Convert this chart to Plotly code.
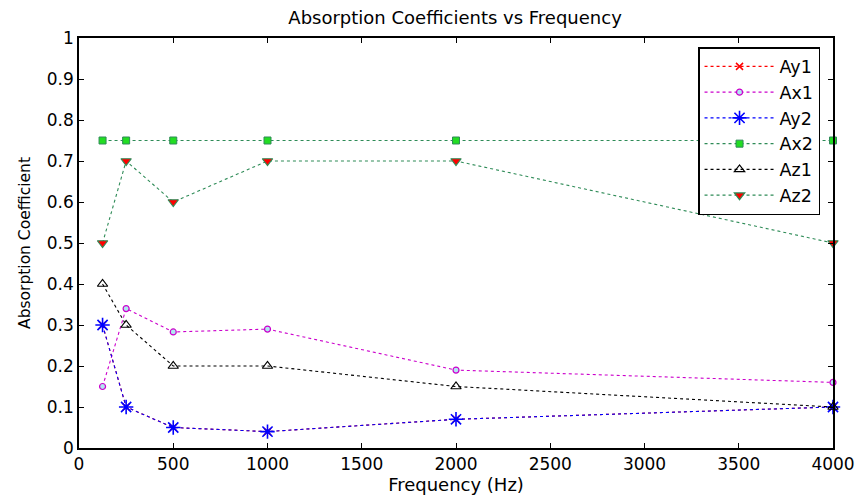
import plotly.graph_objects as go

# Octave-band centre frequencies (Hz)
freq = [125, 250, 500, 1000, 2000, 4000]

# Absorption coefficients per surface
ay1 = [0.30, 0.10, 0.05, 0.04, 0.07, 0.10]
ax1 = [0.15, 0.34, 0.283, 0.29, 0.19, 0.16]
ay2 = [0.30, 0.10, 0.05, 0.04, 0.07, 0.10]
ax2 = [0.75, 0.75, 0.75, 0.75, 0.75, 0.75]
az1 = [0.40, 0.30, 0.20, 0.20, 0.15, 0.10]
az2 = [0.50, 0.70, 0.60, 0.70, 0.70, 0.50]

x_ticks = [0, 500, 1000, 1500, 2000, 2500, 3000, 3500, 4000]
y_ticks = [0, 0.1, 0.2, 0.3, 0.4, 0.5, 0.6, 0.7, 0.8, 0.9, 1]

seagreen = "#2e8b57"

series = [
    ("Ay1", ay1, "red", dict(symbol="x-thin-open", size=7, color="red",
                             line=dict(color="red", width=1.5))),
    ("Ax1", ax1, "#cc00cc", dict(symbol="circle", size=6, color="#b0e8f0",
                                 line=dict(color="#cc00cc", width=1.2))),
    ("Ay2", ay2, "blue", dict(symbol="asterisk-open", size=12, color="blue",
                              line=dict(color="blue", width=1.6))),
    ("Ax2", ax2, seagreen, dict(symbol="square", size=7, color="#22dd22",
                                line=dict(color=seagreen, width=1))),
    ("Az1", az1, "black", dict(symbol="triangle-up-open", size=9, color="black",
                               line=dict(color="black", width=1.2))),
    ("Az2", az2, seagreen, dict(symbol="triangle-down", size=9, color="red",
                                line=dict(color=seagreen, width=1.2))),
]

fig = go.Figure()
for name, vals, lc, mk in series:
    fig.add_trace(go.Scatter(
        x=freq, y=vals, name=name, mode="lines+markers",
        line=dict(color=lc, width=1.1, dash="dot"),
        marker=mk, cliponaxis=False,
    ))

axis_common = dict(
    showgrid=False, zeroline=False, showline=True, linecolor="black",
    linewidth=1.5, mirror="ticks", ticks="inside", ticklen=5,
    tickcolor="black", tickfont=dict(size=17, color="black"),
    automargin=False,
)

fig.update_layout(
    width=857, height=498,
    margin=dict(l=79, r=24, t=38, b=50),
    paper_bgcolor="white", plot_bgcolor="white",
    font=dict(family="DejaVu Sans, sans-serif", color="black"),
    title=dict(text="Absorption Coefficients vs Frequency", x=0.531, xanchor="center",
               y=0.965, yanchor="middle", font=dict(size=18, color="black")),
    xaxis=dict(range=[0, 4000], tickvals=x_ticks,
               title=dict(text="Frequency (Hz)", font=dict(size=18), standoff=4),
               **axis_common),
    yaxis=dict(range=[0, 1], tickvals=y_ticks,
               ticktext=[f"{v:g}" for v in y_ticks],
               title=dict(text="Absorption Coefficient", font=dict(size=15.5), standoff=12),
               **axis_common),
    legend=dict(x=0.821, y=0.978, xanchor="left", yanchor="top",
                bgcolor="white", bordercolor="black", borderwidth=1.5,
                font=dict(size=17.5, color="black"), itemwidth=70,
                traceorder="normal"),
    showlegend=True,
)

fig.write_html("out.html")
